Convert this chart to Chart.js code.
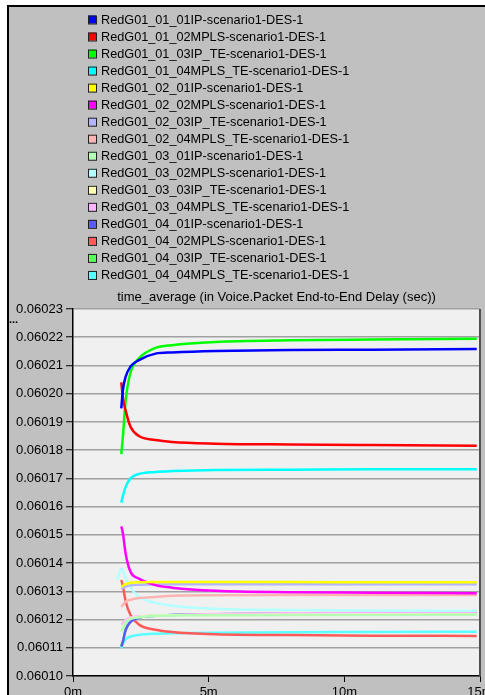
<!DOCTYPE html>
<html>
<head>
<meta charset="utf-8">
<style>
html, body { margin: 0; padding: 0; background: #fff; }
</style>
<script src="https://cdn.jsdelivr.net/npm/chart.js@4.4.0/dist/chart.umd.min.js"></script>
</head>
<body>
<canvas id="myChart" width="485" height="695"></canvas>
<script>
// Sample times (minutes) shared by every series
var minutes = [1.63, 1.78, 1.84, 1.94, 2.12, 2.43, 3.04, 3.65, 5.25, 8, 11, 14.88];

var seriesNames = [
    'RedG01_01_01IP-scenario1-DES-1',
    'RedG01_01_02MPLS-scenario1-DES-1',
    'RedG01_01_03IP_TE-scenario1-DES-1',
    'RedG01_01_04MPLS_TE-scenario1-DES-1',
    'RedG01_02_01IP-scenario1-DES-1',
    'RedG01_02_02MPLS-scenario1-DES-1',
    'RedG01_02_03IP_TE-scenario1-DES-1',
    'RedG01_02_04MPLS_TE-scenario1-DES-1',
    'RedG01_03_01IP-scenario1-DES-1',
    'RedG01_03_02MPLS-scenario1-DES-1',
    'RedG01_03_03IP_TE-scenario1-DES-1',
    'RedG01_03_04MPLS_TE-scenario1-DES-1',
    'RedG01_04_01IP-scenario1-DES-1',
    'RedG01_04_02MPLS-scenario1-DES-1',
    'RedG01_04_03IP_TE-scenario1-DES-1',
    'RedG01_04_04MPLS_TE-scenario1-DES-1'
];

var seriesColors = [
    '#0000ff', '#ff0000', '#00ff00', '#00ffff',
    '#ffff00', '#ff00ff', '#b4b4ff', '#ffb4b4',
    '#b4ffb4', '#b4ffff', '#ffffb4', '#ffb4ff',
    '#5a5aff', '#ff5a5a', '#5aff5a', '#5affff'
];

// Voice packet end-to-end delay, time average (sec)
var g01_01 = [null, 0.0601948, 0.0602013, 0.0602060, 0.0602096, 0.0602119, 0.0602142, 0.0602146, 0.0602151, 0.0602155, 0.0602156, 0.0602158];
var g01_02 = [null, 0.0602040, 0.0601985, 0.0601940, 0.0601883, 0.0601850, 0.0601836, 0.0601829, 0.0601823, 0.0601820, 0.0601818, 0.0601816];
var g01_03 = [null, 0.0601786, 0.0601850, 0.0601975, 0.0602075, 0.0602125, 0.0602162, 0.0602172, 0.0602183, 0.0602189, 0.0602192, 0.0602195];
var g01_04 = [null, 0.0601614, 0.0601638, 0.0601670, 0.0601700, 0.0601716, 0.0601723, 0.0601726, 0.0601730, 0.0601731, 0.0601732, 0.0601732];
var g02_01 = [null, 0.0601315, 0.0601320, 0.0601325, 0.0601330, 0.0601332, 0.0601333, 0.0601333, 0.0601333, 0.0601333, 0.0601332, 0.0601332];
var g02_02 = [null, 0.0601530, 0.0601505, 0.0601433, 0.0601369, 0.0601345, 0.0601322, 0.0601313, 0.0601302, 0.0601297, 0.0601295, 0.0601293];
var g02_03 = [null, 0.0601308, 0.0601312, 0.0601317, 0.0601321, 0.0601323, 0.0601324, 0.0601325, 0.0601325, 0.0601325, 0.0601325, 0.0601325];
var g02_04 = [null, 0.0601245, 0.0601252, 0.0601263, 0.0601270, 0.0601276, 0.0601280, 0.0601284, 0.0601286, 0.0601287, 0.0601287, 0.0601287];
var g03_01 = [null, 0.0601158, 0.0601172, 0.0601190, 0.0601202, 0.0601208, 0.0601213, 0.0601214, 0.0601215, 0.0601216, 0.0601216, 0.0601217];
var g03_02 = [0.0601340, 0.0601380, 0.0601372, 0.0601348, 0.0601313, 0.0601281, 0.0601259, 0.0601249, 0.0601238, 0.0601234, 0.0601232, 0.0601231];
var g03_03 = [null, 0.0601160, 0.0601174, 0.0601191, 0.0601203, 0.0601209, 0.0601214, 0.0601215, 0.0601216, 0.0601217, 0.0601217, 0.0601218];
var g03_04 = [null, 0.0601182, 0.0601188, 0.0601198, 0.0601207, 0.0601211, 0.0601214, 0.0601216, 0.0601220, 0.0601222, 0.0601224, 0.0601225];
var g04_01 = [null, 0.0601104, 0.0601122, 0.0601163, 0.0601192, 0.0601207, 0.0601213, 0.0601216, 0.0601219, 0.0601221, 0.0601223, 0.0601224];
var g04_02 = [null, 0.0601340, 0.0601318, 0.0601265, 0.0601216, 0.0601182, 0.0601164, 0.0601156, 0.0601148, 0.0601145, 0.0601143, 0.0601142];
var g04_03 = [null, 0.0601106, 0.0601125, 0.0601165, 0.0601193, 0.0601207, 0.0601213, 0.0601216, 0.0601219, 0.0601221, 0.0601222, 0.0601223];
var g04_04 = [null, 0.0601098, 0.0601115, 0.0601130, 0.0601140, 0.0601146, 0.0601150, 0.0601151, 0.0601153, 0.0601155, 0.0601156, 0.0601157];

var seriesValues = [g01_01, g01_02, g01_03, g01_04, g02_01, g02_02, g02_03, g02_04,
                    g03_01, g03_02, g03_03, g03_04, g04_01, g04_02, g04_03, g04_04];

var xTicks = [0, 5, 10, 15];
var chartTitle = 'time_average (in Voice.Packet End-to-End Delay (sec))';
var fontFamily = '"Liberation Sans", Arial, sans-serif';

var datasets = seriesValues.map(function (vals, i) {
    return {
        label: seriesNames[i],
        data: minutes.map(function (m, j) { return { x: m, y: vals[j] }; }),
        borderColor: seriesColors[i],
        backgroundColor: seriesColors[i],
        borderWidth: 2.5,
        pointRadius: 0,
        fill: false,
        cubicInterpolationMode: 'monotone'
    };
});

// Grey panel, plot background, legend list, title over the plot
var panelPlugin = {
    id: 'panel',
    beforeDraw: function (chart) {
        var c = chart.ctx, a = chart.chartArea;
        c.save();
        c.fillStyle = '#ffffff';
        c.fillRect(0, 0, chart.width, chart.height);
        c.fillStyle = '#c0c0c0';
        c.fillRect(8, 6, chart.width - 8, chart.height - 6);
        c.fillStyle = '#000';
        c.fillRect(7, 5, chart.width - 7, 2);
        c.fillRect(7, 5, 2, chart.height - 5);
        c.fillStyle = '#f0f0f0';
        c.fillRect(a.left, a.top, a.right - a.left, a.bottom - a.top);

        // legend
        c.font = '12.7px ' + fontFamily;
        c.textBaseline = 'middle';
        c.textAlign = 'left';
        for (var i = 0; i < seriesNames.length; i++) {
            var y = 19.5 + i * 17.03;
            c.fillStyle = seriesColors[i];
            c.fillRect(88, y - 4, 8, 8);
            c.strokeStyle = '#202020';
            c.lineWidth = 1;
            c.strokeRect(88.5, y - 3.5, 8, 8);
            c.fillStyle = '#000';
            c.fillText(seriesNames[i], 101, y + 0.5);
        }

        // title centred over the plot area
        c.font = '13px ' + fontFamily;
        c.textAlign = 'center';
        c.fillText(chartTitle, (a.left + a.right) / 2, 297.5);

        c.font = 'bold 11px ' + fontFamily;
        c.textAlign = 'left';
        c.textBaseline = 'alphabetic';
        c.fillText('...', 9, 323);
        c.restore();
    },
    afterDraw: function (chart) {
        var c = chart.ctx, a = chart.chartArea;
        c.save();
        c.strokeStyle = '#505050';
        c.lineWidth = 2;
        c.beginPath();
        c.moveTo(a.right, a.top);
        c.lineTo(a.right, a.bottom);
        c.stroke();
        c.restore();
    }
};

var ctx = document.getElementById('myChart').getContext('2d');
var myChart = new Chart(ctx, {
    type: 'line',
    data: { datasets: datasets },
    plugins: [panelPlugin],
    options: {
        responsive: false,
        animation: false,
        layout: { padding: { top: 309, right: 5, left: 0, bottom: 0 } },
        plugins: {
            legend: { display: false },
            tooltip: { enabled: false },
            title: { display: false }
        },
        scales: {
            x: {
                type: 'linear',
                min: 0,
                max: 15,
                afterBuildTicks: function (scale) {
                    scale.ticks = xTicks.map(function (v) { return { value: v }; });
                },
                ticks: {
                    color: '#000',
                    font: { family: fontFamily, size: 13 },
                    padding: 3,
                    maxRotation: 0,
                    autoSkip: false,
                    callback: function (v) { return v + 'm'; }
                },
                grid: { drawOnChartArea: false, tickLength: 6, tickColor: '#000', tickWidth: 1 },
                border: { color: '#000', width: 1.5 },
                afterFit: function (scale) {
                    scale.height = 19;
                    scale.paddingLeft = 0;
                    scale.paddingRight = 0;
                }
            },
            y: {
                type: 'linear',
                min: 0.0601,
                max: 0.06023,
                ticks: {
                    stepSize: 0.00001,
                    color: '#000',
                    font: { family: fontFamily, size: 13 },
                    padding: 3,
                    autoSkip: false,
                    callback: function (v) { return v.toFixed(5); }
                },
                grid: { color: '#a0a0a0', lineWidth: 1.5, tickLength: 7, tickColor: '#000', tickWidth: 1 },
                border: { color: '#000', width: 1.5 },
                afterFit: function (scale) {
                    scale.width = 73;
                }
            }
        }
    }
});
</script>
</body>
</html>
